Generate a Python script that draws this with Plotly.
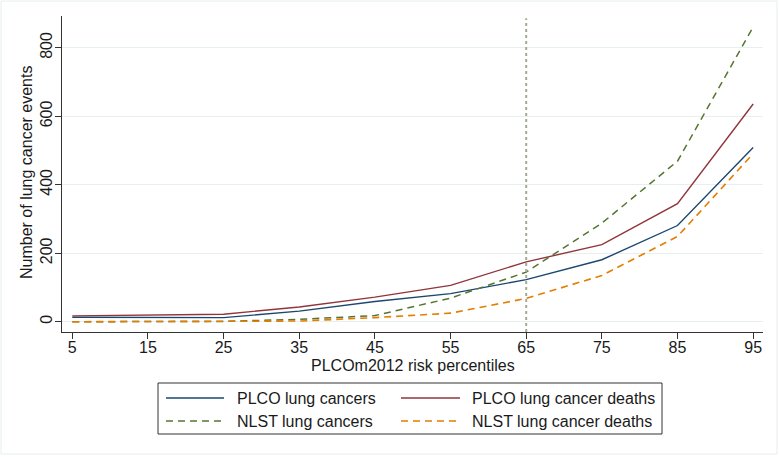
import plotly.graph_objects as go

percentiles = [5, 15, 25, 35, 45, 55, 65, 75, 85, 95]
plco_cancers = [13, 12, 12, 31, 59, 82, 123, 181, 281, 509]
plco_deaths = [17, 19, 22, 43, 72, 106, 175, 225, 345, 636]
nlst_cancers = [0, 0, 1, 7, 18, 69, 145, 288, 469, 861]
nlst_deaths = [0, 0, 0, 2, 12, 25, 68, 135, 249, 491]
x_ticks = [5, 15, 25, 35, 45, 55, 65, 75, 85, 95]
y_ticks = [0, 200, 400, 600, 800]
cutoff = 65

W, H = 780, 457
ML, MR, MT, MB = 62, 17, 16, 125
PW, PH = W - ML - MR, H - MT - MB


def px(x):
    return (x - ML) / PW


def py(y):
    return (H - MB - y) / PH


font = "Liberation Sans, Arial, sans-serif"
TXT = "#1a1a1a"
fig = go.Figure()
series = [
    ("PLCO lung cancers", plco_cancers, "#1a476f", "solid", 1.4),
    ("PLCO lung cancer deaths", plco_deaths, "#90353b", "solid", 1.4),
    ("NLST lung cancers", nlst_cancers, "#55752f", "7px,5px", 1.5),
    ("NLST lung cancer deaths", nlst_deaths, "#e37e00", "7px,5px", 1.6),
]
for name, vals, col, dash, w in series:
    fig.add_trace(go.Scatter(x=percentiles, y=vals, mode="lines", name=name,
                             showlegend=False,
                             line=dict(color=col, dash=dash, width=w)))

fig.add_shape(type="line", xref="x", yref="paper", x0=cutoff, x1=cutoff, y0=0, y1=0.993,
              line=dict(color="#a3ab95", width=2, dash="dot"), layer="above")
# faint outer frame
fig.add_shape(type="rect", xref="paper", yref="paper",
              x0=px(1), x1=px(777), y0=py(454), y1=py(1),
              line=dict(color="#e6eef0", width=1))

# legend box (two columns, row-wise order)
fig.add_shape(type="rect", xref="paper", yref="paper",
              x0=px(158), x1=px(662), y0=py(434), y1=py(383),
              line=dict(color="#333333", width=1))
cols = [(166, 224, 235), (401, 460, 470)]
rows = [398, 421]
for i, (name, vals, col, dash, w) in enumerate(series):
    lx0, lx1, tx = cols[i % 2]
    ry = rows[i // 2]
    fig.add_shape(type="line", xref="paper", yref="paper",
                  x0=px(lx0), x1=px(lx1), y0=py(ry), y1=py(ry),
                  line=dict(color=col, dash=dash, width=w))
    fig.add_annotation(xref="paper", yref="paper", x=px(tx), y=py(ry),
                       xanchor="left", yanchor="middle", showarrow=False,
                       text=name, font=dict(size=16, family=font, color=TXT))

# axis titles
fig.add_annotation(xref="paper", yref="paper", x=0.5, y=py(366),
                   xanchor="center", yanchor="middle", showarrow=False,
                   text="PLCOm2012 risk percentiles",
                   font=dict(size=16, family=font, color=TXT))
fig.add_annotation(xref="paper", yref="paper", x=px(26), y=py(173),
                   xanchor="center", yanchor="middle", showarrow=False, textangle=-90,
                   text="Number of lung cancer events",
                   font=dict(size=16, family=font, color=TXT))

fig.update_layout(
    width=W, height=H,
    margin=dict(l=ML, r=MR, t=MT, b=MB, autoexpand=False),
    paper_bgcolor="white", plot_bgcolor="white",
    font=dict(family=font, size=16, color=TXT),
    showlegend=False,
    xaxis=dict(range=[3.64, 96.3], tickvals=x_ticks, showgrid=False, zeroline=False,
               showline=True, linecolor="#333333", linewidth=1,
               ticks="outside", ticklen=6, tickcolor="#333333",
               ticklabelstandoff=-5, tickfont=dict(size=16)),
    yaxis=dict(range=[-30, 893], tickvals=y_ticks, showgrid=True, gridcolor="#e8eff1",
               gridwidth=1, zeroline=False, showline=True, linecolor="#333333", linewidth=1,
               ticks="outside", ticklen=6, tickcolor="#333333", tickangle=-90,
               ticklabelstandoff=-3, tickfont=dict(size=16)),
)
fig.write_html("out.html", config={"displayModeBar": False},
               post_script="document.body.style.margin='0';")
